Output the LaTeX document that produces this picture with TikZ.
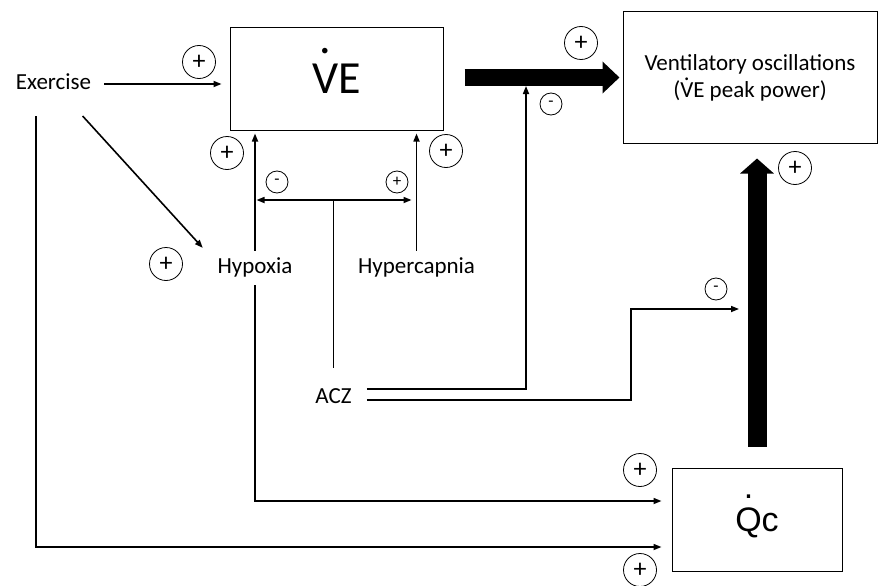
\documentclass[tikz,border=0pt]{standalone}
\usepackage{fontspec}
\setmainfont{Carlito}
\newfontfamily\arialfont{Liberation Sans}
\usetikzlibrary{arrows.meta}
% letter with a dot over it
\newcommand{\dotover}[2]{\leavevmode\ooalign{#1\cr\hidewidth\smash{\raisebox{#2}{.}}\hidewidth\cr}}

\begin{document}
\begin{tikzpicture}[x=1pt, y=-1pt,
    every node/.style={font=\fontsize{23}{27}\selectfont},
    box/.style={draw, line width=1pt, inner sep=0pt},
    lbl/.style={inner xsep=0pt, inner ysep=7pt, text height=15pt, text depth=5pt},
    bigsign/.style={draw, circle, line width=0.8pt, inner sep=0pt, minimum size=33pt, font=\fontsize{26}{26}\selectfont},
    smallsign/.style={draw, circle, line width=0.8pt, inner sep=0pt, minimum size=22pt, font=\fontsize{17}{17}\selectfont},
    arr/.style={line width=1.6pt, -{Triangle[length=8pt,width=6pt]}},
    link/.style={line width=1.6pt},
    fatH/.style={line width=17pt, -{Triangle[length=17pt,width=31pt]}},
    fatV/.style={line width=19pt, -{Triangle[length=15pt,width=33pt]}}]
  \useasboundingbox (0,0) rectangle (878,586);

  % Boxes
  \node[box, minimum width=213pt, minimum height=102pt] (ve) at (336.5,79) {\fontsize{46}{46}\selectfont\dotover{V}{40pt}E};
  \node[box, minimum width=254pt, minimum height=131pt, align=center] (vo) at (750,77.5) {Ventilatory oscillations\\(\dotover{V}{17pt}E peak power)};
  \node[box, minimum width=170pt, minimum height=103pt] (qc) at (757,519.5) {\arialfont\fontsize{34}{34}\selectfont\dotover{Q}{33pt}c};

  % Labels
  \node[lbl] (ex) at (53.5,84) {Exercise};
  \node[lbl] (hypo) at (255,268) {Hypoxia};
  \node[lbl] (hyper) at (416.5,268) {Hypercapnia};
  \node[lbl] (acz) at (333.5,398) {ACZ};
  \coordinate (fork) at (333.5,200);
  \coordinate (cutR) at (526,86);
  \coordinate (cutU) at (739,309);

  % Fat arrows
  \draw[fatH, shorten <=21pt, shorten >=3pt] (ve.east |- vo.west) -- (vo.west);
  \draw[fatV, shorten <=21pt, shorten >=15pt] (qc.north) -- (qc.north |- vo.south);

  % Exercise
  \draw[arr, shorten <=13pt, shorten >=8pt] (ex.east) -- (ex.east -| ve.west);
  \draw[arr, shorten <=20pt, shorten >=4pt] (ex) -- ([xshift=-12pt]hypo.north west);
  \draw[arr] ([xshift=-17.5pt,yshift=-15pt]ex.south) |- ([xshift=-10pt,yshift=-27.5pt]qc.west);

  % Hypoxia and hypercapnia
  \draw[arr, shorten >=3pt] (hypo.north) -- (hypo.north |- ve.south);
  \draw[arr, shorten >=3pt] (hyper.north) -- (hyper.north |- ve.south);
  \draw[arr] (hypo.south) |- ([xshift=-10pt,yshift=18.5pt]qc.west);

  % ACZ
  \draw[link, shorten <=13pt] (acz.north) -- (fork);
  \draw[arr, shorten >=1.5pt] (fork) -- (fork -| hypo.north);
  \draw[arr, shorten >=5pt] (fork) -- (fork -| hyper.north);
  \draw[arr] ([xshift=15pt,yshift=9pt]acz.east) -| (cutR);
  \draw[arr] ([xshift=15pt,yshift=-2pt]acz.east) -- ++(264,0) |- (cutU);

  % Signs
  \node[bigsign] (sEx) at (199,62) {+};
  \node[bigsign] (sFat) at (581,43) {+};
  \node[smallsign] (sFatAcz) at (551,104) {-};
  \node[bigsign] (sHypo) at (227,153) {+};
  \node[bigsign] (sHyper) at (446,151) {+};
  \node[smallsign] (sAczHypo) at (277,182) {-};
  \node[smallsign] (sAczHyper) at (397,182) {+};
  \node[bigsign] (sExHypo) at (166,264) {+};
  \node[bigsign] (sQc) at (795,168) {+};
  \node[smallsign] (sQcAcz) at (716,289) {-};
  \node[bigsign] (sHypoQc) at (640,470) {+};
  \node[bigsign] (sExQc) at (640,570) {+};
\end{tikzpicture}
\end{document}
